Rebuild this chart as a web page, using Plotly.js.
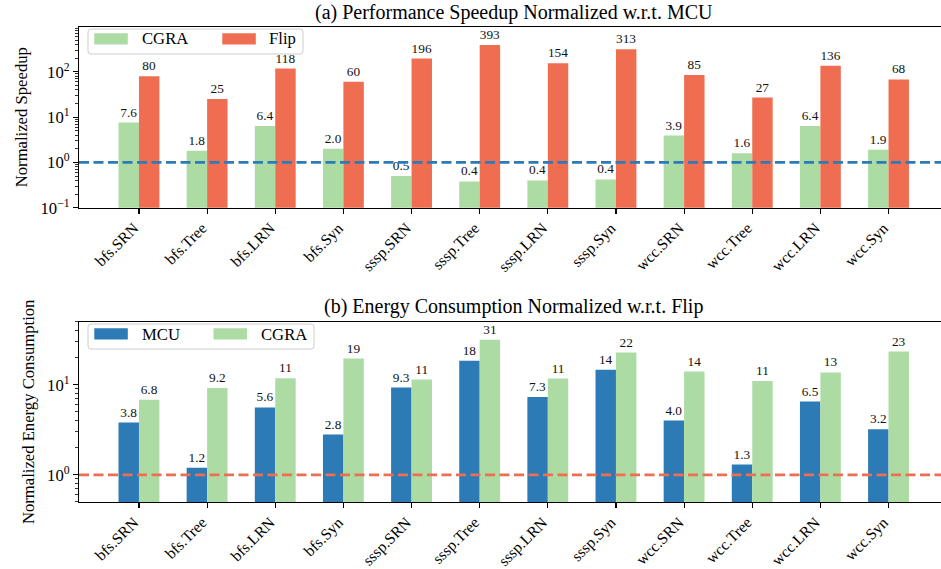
<!DOCTYPE html>
<html><head><meta charset="utf-8">
<script src="https://cdn.plot.ly/plotly-3.0.1.min.js"></script>
<style>html,body{margin:0;padding:0;background:#fff}#chart{width:941px;height:569px}</style>
</head><body><div id="chart"></div>
<script>
const categories = ['bfs.SRN','bfs.Tree','bfs.LRN','bfs.Syn','sssp.SRN','sssp.Tree','sssp.LRN','sssp.Syn','wcc.SRN','wcc.Tree','wcc.LRN','wcc.Syn'];

const speedupCGRA = [7.6, 1.8, 6.4, 2.0, 0.5, 0.38, 0.4, 0.42, 3.9, 1.6, 6.4, 1.9];
const speedupFlip = [80, 25, 118, 60, 196, 393, 154, 313, 85, 27, 136, 68];
const speedupCGRALabels = ['7.6','1.8','6.4','2.0','0.5','0.4','0.4','0.4','3.9','1.6','6.4','1.9'];
const speedupFlipLabels = ['80','25','118','60','196','393','154','313','85','27','136','68'];

const energyMCU = [3.8, 1.2, 5.6, 2.8, 9.3, 18.5, 7.3, 14.7, 4.0, 1.3, 6.5, 3.2];
const energyCGRA = [6.8, 9.2, 11.8, 19.5, 11.4, 31.6, 11.7, 22.7, 14.0, 11.0, 13.7, 23.3];
const energyMCULabels = ['3.8','1.2','5.6','2.8','9.3','18','7.3','14','4.0','1.3','6.5','3.2'];
const energyCGRALabels = ['6.8','9.2','11','19','11','31','11','22','14','11','13','23'];

const speedupTickVals = [0.1, 1, 10, 100];
const speedupTickText = ['10<sup>\u22121</sup>','10<sup>0</sup>','10<sup>1</sup>','10<sup>2</sup>'];
const energyTickVals = [1, 10];
const energyTickText = ['10<sup>0</sup>','10<sup>1</sup>'];

const titleA = '(a) Performance Speedup Normalized w.r.t. MCU';
const titleB = '(b) Energy Consumption Normalized w.r.t. Flip';
const legendA = ['CGRA', 'Flip'];
const legendB = ['MCU', 'CGRA'];

const GREEN = '#acdca4', RED = '#ef6e51', BLUE = '#2c7ab6';
const FONT = 'Liberation Serif, Times New Roman, serif';

// figure geometry (pixels)
const W = 941, H = 569, ML = 79;
const px2x = p => (p - ML) / (W - ML);
const py2y = p => (H - p) / H;

function minorTicks(loExp, hiExp, maxVal, minVal) {
  const out = [];
  for (let e = loExp; e <= hiExp; e++) {
    for (let m = 2; m <= 9; m++) {
      const v = m * Math.pow(10, e);
      if (v <= maxVal && v >= minVal) out.push(v);
    }
  }
  return out;
}

function barTrace(y, labels, name, color, xa, ya) {
  return {
    type: 'bar', x: categories, y: y, name: name, showlegend: false,
    marker: {color: color, line: {width: 0}},
    text: labels, textposition: 'outside', cliponaxis: false, constraintext: 'none',
    textfont: {family: FONT, size: 13.3, color: '#111'},
    xaxis: xa, yaxis: ya
  };
}

const data = [
  barTrace(speedupCGRA, speedupCGRALabels, legendA[0], GREEN, 'x', 'y'),
  barTrace(speedupFlip, speedupFlipLabels, legendA[1], RED, 'x', 'y'),
  barTrace(energyMCU, energyMCULabels, legendB[0], BLUE, 'x2', 'y2'),
  barTrace(energyCGRA, energyCGRALabels, legendB[1], GREEN, 'x2', 'y2')
];

const tickFont = {family: FONT, size: 16.67, color: '#000'};
const xBase = {
  type: 'category', range: [-0.88, 11.77], tickangle: -45,
  ticks: 'outside', ticklen: 5, tickwidth: 1.1, tickcolor: '#000',
  showline: true, linecolor: '#000', linewidth: 1.1, mirror: true,
  showgrid: false, zeroline: false, tickfont: {family: FONT, size: 15.7, color: '#000'},
  fixedrange: true, ticklabelstandoff: -1, ticklabelshift: -5
};
const yBase = {
  type: 'log', ticks: 'outside', ticklen: 5, tickwidth: 1.1, tickcolor: '#000',
  showline: true, linecolor: '#000', linewidth: 1.1, mirror: false,
  showgrid: false, zeroline: false, tickfont: tickFont, tickmode: 'array',
  fixedrange: true
};

// legends drawn in matplotlib style (long patches + rounded frame)
function roundedRect(x0, y0, x1, y1, r) {
  const X = px2x, Y = py2y;
  return 'M' + X(x0 + r) + ',' + Y(y0) + ' L' + X(x1 - r) + ',' + Y(y0) +
    ' Q' + X(x1) + ',' + Y(y0) + ' ' + X(x1) + ',' + Y(y0 + r) +
    ' L' + X(x1) + ',' + Y(y1 - r) + ' Q' + X(x1) + ',' + Y(y1) + ' ' + X(x1 - r) + ',' + Y(y1) +
    ' L' + X(x0 + r) + ',' + Y(y1) + ' Q' + X(x0) + ',' + Y(y1) + ' ' + X(x0) + ',' + Y(y1 - r) +
    ' L' + X(x0) + ',' + Y(y0 + r) + ' Q' + X(x0) + ',' + Y(y0) + ' ' + X(x0 + r) + ',' + Y(y0) + ' Z';
}
function legendParts(names, colors, top, boxRight, patchX, textX) {
  const shapes = [{
    type: 'path', xref: 'paper', yref: 'paper', path: roundedRect(88, top, boxRight, top + 25, 3),
    fillcolor: 'rgba(255,255,255,0.8)', line: {color: '#cccccc', width: 1}, layer: 'above'
  }];
  const anns = [];
  names.forEach((n, i) => {
    shapes.push({type: 'rect', xref: 'paper', yref: 'paper',
      x0: px2x(patchX[i]), x1: px2x(patchX[i] + 33.5), y0: py2y(top + 4.3), y1: py2y(top + 15.6),
      fillcolor: colors[i], line: {width: 0}, layer: 'above'});
    anns.push({text: n, xref: 'paper', yref: 'paper', x: px2x(textX[i] - 2), y: py2y(top + 10),
      xanchor: 'left', yanchor: 'middle', showarrow: false,
      font: {family: FONT, size: 16.67, color: '#000'}});
  });
  return {shapes, anns};
}
const legTop = legendParts(legendA, [GREEN, RED], 29, 303, [94.3, 222.3], [141.7, 269.3]);
const legBot = legendParts(legendB, [BLUE, GREEN], 324, 314, [94.3, 213.5], [141.7, 260.7]);

const layout = {
  width: W, height: H,
  margin: {l: ML, r: 0, t: 0, b: 0},
  paper_bgcolor: '#fff', plot_bgcolor: '#fff',
  font: {family: FONT, color: '#000'},
  barmode: 'group', bargap: 0.4, bargroupgap: 0,
  showlegend: false,
  xaxis: Object.assign({}, xBase, {anchor: 'y', domain: [0, 1]}),
  yaxis: Object.assign({}, yBase, {
    anchor: 'x', domain: [0.635, 0.953], range: [-1, 2.995],
    tickvals: speedupTickVals, ticktext: speedupTickText,
    minor: {tickmode: 'array', tickvals: minorTicks(-1, 2, 990, 0.1), ticks: 'outside', ticklen: 3, tickwidth: 0.8, tickcolor: '#000', showgrid: false},
    title: {text: 'Normalized Speedup', font: {family: FONT, size: 16.67, color: '#000'}, standoff: 8}
  }),
  xaxis2: Object.assign({}, xBase, {anchor: 'y2', domain: [0, 1]}),
  yaxis2: Object.assign({}, yBase, {
    anchor: 'x2', domain: [0.1178, 0.4346], range: [Math.log10(0.5), Math.log10(50)],
    tickvals: energyTickVals, ticktext: energyTickText,
    minor: {tickmode: 'array', tickvals: minorTicks(-1, 1, 50, 0.5), ticks: 'outside', ticklen: 3, tickwidth: 0.8, tickcolor: '#000', showgrid: false},
    title: {text: 'Normalized Energy Consumption', font: {family: FONT, size: 16.67, color: '#000'}, standoff: 8}
  }),
  shapes: [
    {type: 'line', xref: 'x domain', yref: 'y', x0: 0, x1: 1, y0: 1, y1: 1,
     line: {color: BLUE, width: 2.8, dash: '10px,4.5px'}},
    {type: 'line', xref: 'x2 domain', yref: 'y2', x0: 0, x1: 1, y0: 1, y1: 1,
     line: {color: RED, width: 2.8, dash: '10px,4.5px'}}
  ].concat(legTop.shapes, legBot.shapes),
  annotations: [
    {text: titleA, xref: 'x', yref: 'paper', x: (categories.length - 1) / 2, y: 0.953,
     xanchor: 'center', yanchor: 'bottom', yshift: 2, borderpad: 0, showarrow: false,
     font: {family: FONT, size: 20, color: '#000'}},
    {text: titleB, xref: 'x2', yref: 'paper', x: (categories.length - 1) / 2, y: 0.4346,
     xanchor: 'center', yanchor: 'bottom', yshift: 3, borderpad: 0, showarrow: false,
     font: {family: FONT, size: 20, color: '#000'}}
  ].concat(legTop.anns, legBot.anns)
};

Plotly.newPlot('chart', data, layout, {staticPlot: true, displayModeBar: false});
</script>
</body></html>
